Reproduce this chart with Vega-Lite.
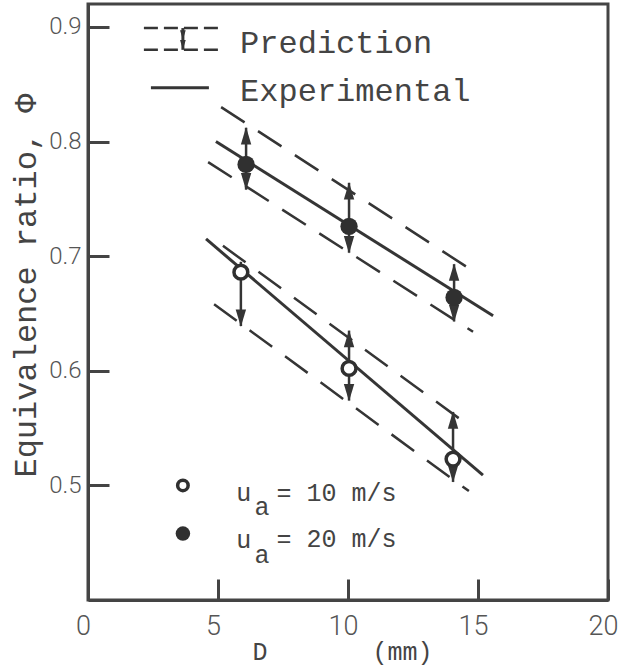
{
  "$schema": "https://vega.github.io/schema/vega-lite/v6.json",
  "width": 520,
  "height": 596,
  "autosize": "none",
  "padding": {"left": 88, "top": 4, "right": 13, "bottom": 70},
  "background": "white",
  "config": {
    "view": {"stroke": "#444", "strokeWidth": 3},
    "axis": {"grid": false, "domainColor": "#444", "domainWidth": 3, "tickColor": "#444", "tickWidth": 3, "tickSize": -21, "labelColor": "#555", "labelFont": "Roboto", "labelFontWeight": 300, "titleColor": "#444", "titleFont": "Liberation Mono", "titleFontWeight": "normal", "labelFlush": false}
  },
  "datasets": {
    "lines": [
      {"series": "exp20", "kind": "exp", "D": 4.92, "phi": 0.800},
      {"series": "exp20", "kind": "exp", "D": 15.58, "phi": 0.648},
      {"series": "pred20U", "kind": "pred", "D": 5.12, "phi": 0.830},
      {"series": "pred20U", "kind": "pred", "D": 14.81, "phi": 0.687},
      {"series": "pred20L", "kind": "pred", "D": 4.62, "phi": 0.782},
      {"series": "pred20L", "kind": "pred", "D": 14.81, "phi": 0.634},
      {"series": "exp10", "kind": "exp", "D": 4.54, "phi": 0.715},
      {"series": "exp10", "kind": "exp", "D": 15.19, "phi": 0.509},
      {"series": "pred10U", "kind": "pred", "D": 5.19, "phi": 0.709},
      {"series": "pred10U", "kind": "pred", "D": 14.54, "phi": 0.554},
      {"series": "pred10L", "kind": "pred", "D": 4.85, "phi": 0.658},
      {"series": "pred10L", "kind": "pred", "D": 14.65, "phi": 0.495},
      {"series": "legPredTop", "kind": "legpred", "D": 2.15, "phi": 0.899},
      {"series": "legPredTop", "kind": "legpred", "D": 5.04, "phi": 0.899},
      {"series": "legPredBot", "kind": "legpred", "D": 2.15, "phi": 0.880},
      {"series": "legPredBot", "kind": "legpred", "D": 5.04, "phi": 0.880},
      {"series": "legExp", "kind": "legexp", "D": 2.42, "phi": 0.847},
      {"series": "legExp", "kind": "legexp", "D": 4.65, "phi": 0.847}
    ],
    "points": [
      {"ua": "10", "D": 5.88, "phi": 0.686, "lo": 0.639, "hi": 0.695},
      {"ua": "10", "D": 10.04, "phi": 0.602, "lo": 0.574, "hi": 0.635},
      {"ua": "10", "D": 14.04, "phi": 0.523, "lo": 0.503, "hi": 0.564},
      {"ua": "20", "D": 6.08, "phi": 0.780, "lo": 0.758, "hi": 0.812},
      {"ua": "20", "D": 10.04, "phi": 0.726, "lo": 0.703, "hi": 0.764},
      {"ua": "20", "D": 14.08, "phi": 0.664, "lo": 0.643, "hi": 0.693}
    ],
    "legendArrow": [
      {"D": 3.65, "lo": 0.880, "hi": 0.899}
    ],
    "legendPoints": [
      {"ua": "10", "D": 3.65, "phi": 0.500},
      {"ua": "20", "D": 3.65, "phi": 0.458}
    ],
    "legendText": [
      {"group": "key", "text": "Prediction", "D": 5.85, "phi": 0.877},
      {"group": "key", "text": "Experimental", "D": 5.85, "phi": 0.835},
      {"group": "ua", "text": "u", "D": 5.7, "phi": 0.486},
      {"group": "ua", "text": "a", "D": 6.4, "phi": 0.474},
      {"group": "ua", "text": "= 10 m/s", "D": 7.25, "phi": 0.486},
      {"group": "ua", "text": "u", "D": 5.7, "phi": 0.445},
      {"group": "ua", "text": "a", "D": 6.4, "phi": 0.432},
      {"group": "ua", "text": "= 20 m/s", "D": 7.25, "phi": 0.446}
    ]
  },
  "encoding": {
    "x": {"field": "D", "type": "quantitative", "scale": {"domain": [0, 20], "nice": false, "zero": false},
      "axis": {"values": [0, 5, 10, 15, 20], "title": "D\u00a0\u00a0\u00a0\u00a0\u00a0\u00a0\u00a0(mm)", "titleFontSize": 25, "titleFontWeight": "normal", "titleX": 254, "titleY": 51, "titleBaseline": "middle", "titleAlign": "center", "labelFontSize": 27, "labelPadding": 34, "labelBaseline": "top", "labelOffset": -5}},
    "y": {"field": "phi", "type": "quantitative", "scale": {"domain": [0.4, 0.92], "nice": false, "zero": false},
      "axis": {"values": [0.5, 0.6, 0.7, 0.8, 0.9], "format": ".1f", "title": "Equivalence ratio, Φ", "titleFontSize": 32, "titleFontWeight": "normal", "titleAngle": -90, "titleX": -63, "titleY": 281, "titleBaseline": "middle", "titleAlign": "center", "labelFontSize": 24, "labelPadding": 28}}
  },
  "layer": [
    {
      "data": {"name": "lines"},
      "transform": [{"filter": "datum.kind == 'exp' || datum.kind == 'legexp'"}],
      "mark": {"type": "line", "color": "#353535", "strokeWidth": 3},
      "encoding": {"detail": {"field": "series"}}
    },
    {
      "data": {"name": "lines"},
      "transform": [{"filter": "datum.kind == 'pred'"}],
      "mark": {"type": "line", "color": "#353535", "strokeWidth": 2.5, "strokeDash": [28, 16]},
      "encoding": {"detail": {"field": "series"}}
    },
    {
      "data": {"name": "lines"},
      "transform": [{"filter": "datum.kind == 'legpred'"}],
      "mark": {"type": "line", "color": "#353535", "strokeWidth": 2.5, "strokeDash": [14, 6]},
      "encoding": {"detail": {"field": "series"}}
    },
    {
      "data": {"name": "points"},
      "mark": {"type": "rule", "color": "#353535", "strokeWidth": 2.5},
      "encoding": {
        "y": {"field": "lo", "type": "quantitative"},
        "y2": {"field": "hi"}
      }
    },
    {
      "data": {"name": "points"},
      "mark": {"type": "point", "shape": "M-0.6,1L0,-1L0.6,1Z", "filled": true, "color": "#353535", "opacity": 1, "size": 300, "yOffset": 8},
      "encoding": {"y": {"field": "hi", "type": "quantitative"}}
    },
    {
      "data": {"name": "points"},
      "mark": {"type": "point", "shape": "M-0.6,-1L0,1L0.6,-1Z", "filled": true, "color": "#353535", "opacity": 1, "size": 300, "yOffset": -8},
      "encoding": {"y": {"field": "lo", "type": "quantitative"}}
    },
    {
      "data": {"name": "legendArrow"},
      "mark": {"type": "rule", "color": "#353535", "strokeWidth": 3},
      "encoding": {
        "y": {"field": "lo", "type": "quantitative"},
        "y2": {"field": "hi"}
      }
    },
    {
      "data": {"name": "legendArrow"},
      "mark": {"type": "point", "shape": "M-0.6,-1L0,1L0.6,-1Z", "filled": true, "color": "#353535", "opacity": 1, "size": 90, "yOffset": -5},
      "encoding": {"y": {"field": "lo", "type": "quantitative"}}
    },
    {
      "data": {"name": "legendArrow"},
      "mark": {"type": "point", "shape": "M-0.6,-1L0,1L0.6,-1Z", "filled": true, "color": "#353535", "opacity": 1, "size": 90, "yOffset": 7},
      "encoding": {"y": {"field": "hi", "type": "quantitative"}}
    },
    {
      "data": {"name": "points"},
      "transform": [{"filter": "datum.ua == '20'"}],
      "mark": {"type": "circle", "color": "#303030", "opacity": 1, "size": 300}
    },
    {
      "data": {"name": "points"},
      "transform": [{"filter": "datum.ua == '10'"}],
      "mark": {"type": "point", "shape": "circle", "filled": false, "fill": "white", "fillOpacity": 1, "stroke": "#303030", "strokeWidth": 3.5, "opacity": 1, "size": 190}
    },
    {
      "data": {"name": "legendPoints"},
      "transform": [{"filter": "datum.ua == '20'"}],
      "mark": {"type": "circle", "color": "#303030", "opacity": 1, "size": 210}
    },
    {
      "data": {"name": "legendPoints"},
      "transform": [{"filter": "datum.ua == '10'"}],
      "mark": {"type": "point", "shape": "circle", "filled": false, "fill": "white", "fillOpacity": 1, "stroke": "#303030", "strokeWidth": 3.5, "opacity": 1, "size": 110}
    },
    {
      "data": {"name": "legendText"},
      "transform": [{"filter": "datum.group == 'key'"}],
      "mark": {"type": "text", "align": "left", "baseline": "alphabetic", "font": "Liberation Mono", "fontSize": 32, "color": "#444"},
      "encoding": {"text": {"field": "text"}}
    },
    {
      "data": {"name": "legendText"},
      "transform": [{"filter": "datum.group == 'ua'"}],
      "mark": {"type": "text", "align": "left", "baseline": "alphabetic", "font": "Liberation Mono", "fontSize": 25, "color": "#444"},
      "encoding": {"text": {"field": "text"}}
    }
  ]
}
